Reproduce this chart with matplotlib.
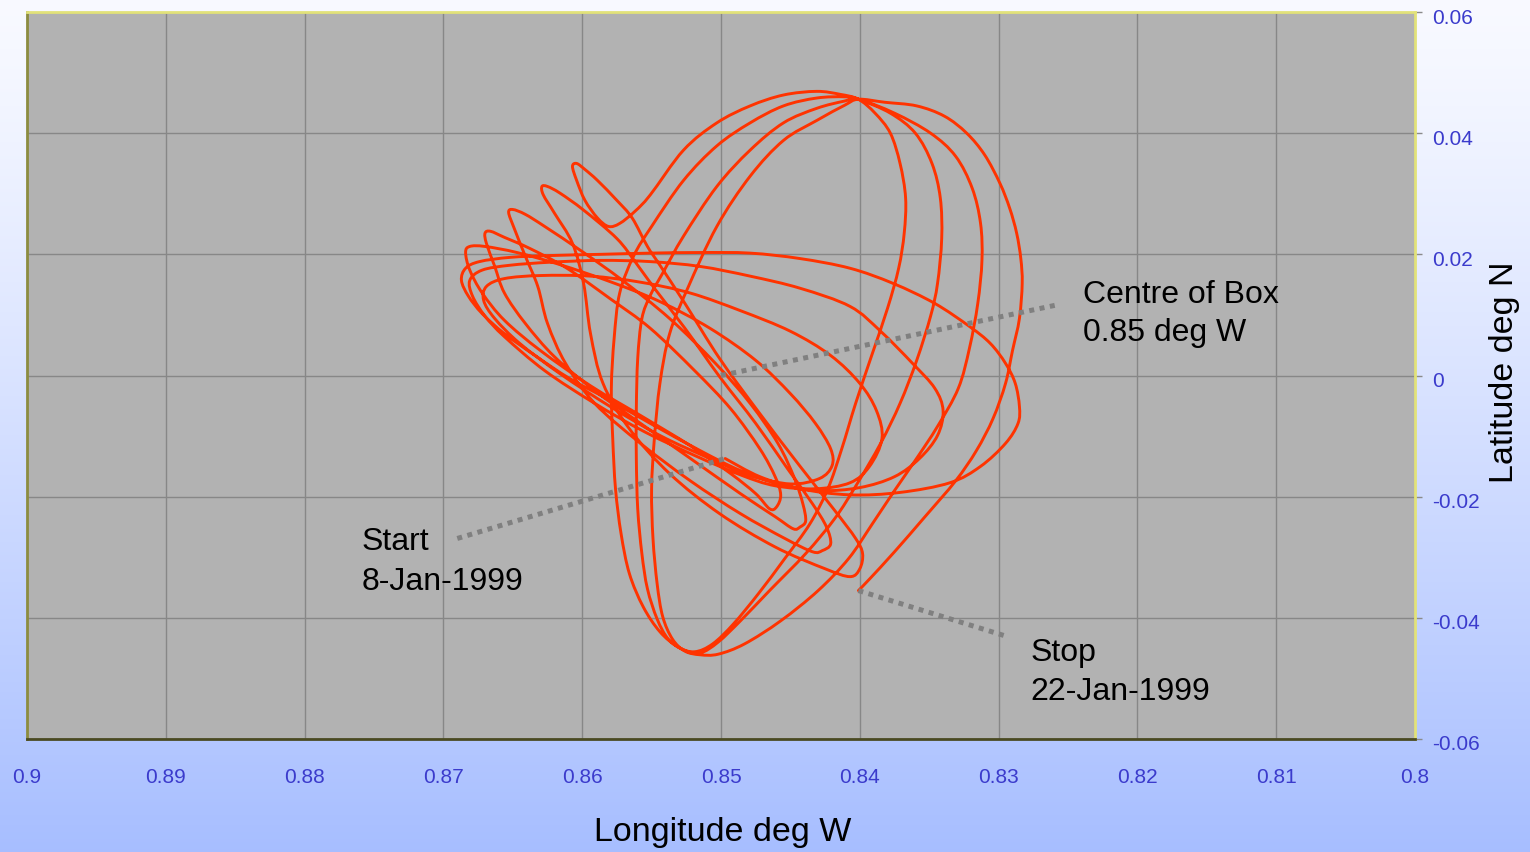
import matplotlib
matplotlib.use("Agg")
import matplotlib.pyplot as plt
from matplotlib.path import Path
from matplotlib.patches import PathPatch
from matplotlib.transforms import ScaledTranslation
import numpy as np

# Daily sub-satellite track, longitude (deg W) and latitude (deg N)
day01_lon = [0.8497, 0.8472, 0.8443, 0.8407, 0.8371, 0.8335, 0.8313, 0.8295, 0.8286, 0.8285, 0.8288, 0.8295,
             0.8306, 0.8321, 0.8346, 0.8376, 0.8407, 0.8443, 0.8479, 0.8515, 0.8551, 0.8587, 0.8623, 0.8652,
             0.8674, 0.8684, 0.8687, 0.8682, 0.8672, 0.8656, 0.8634, 0.8609, 0.8580, 0.8551, 0.8515, 0.8486, 0.8457]
day01_lat = [-0.0137, -0.0167, -0.0187, -0.0197, -0.0193, -0.0177, -0.0150, -0.0112, -0.0079, -0.0051, -0.0013, 0.0020,
             0.0053, 0.0081, 0.0119, 0.0152, 0.0177, 0.0193, 0.0202, 0.0203, 0.0202, 0.0200, 0.0198, 0.0195,
             0.0188, 0.0177, 0.0157, 0.0131, 0.0102, 0.0069, 0.0033, -0.0005, -0.0041, -0.0079, -0.0124, -0.0157, -0.0180]

day02_lon = [0.8429, 0.8400, 0.8375, 0.8357, 0.8344, 0.8340, 0.8346, 0.8362, 0.8385, 0.8407, 0.8443, 0.8479,
             0.8515, 0.8551, 0.8587, 0.8623, 0.8652, 0.8672, 0.8681, 0.8679, 0.8670, 0.8656, 0.8627, 0.8591,
             0.8555, 0.8519, 0.8486, 0.8461]
day02_lat = [-0.0190, -0.0185, -0.0167, -0.0137, -0.0099, -0.0058, -0.0021, 0.0020, 0.0073, 0.0114, 0.0144, 0.0164,
             0.0180, 0.0188, 0.0190, 0.0187, 0.0182, 0.0174, 0.0157, 0.0131, 0.0098, 0.0064, 0.0008, -0.0046,
             -0.0093, -0.0132, -0.0164, -0.0182]

day03_lon = [0.8432, 0.8407, 0.8393, 0.8384, 0.8388, 0.8400, 0.8421, 0.8450, 0.8486, 0.8522, 0.8558, 0.8594,
             0.8630, 0.8656, 0.8669, 0.8671, 0.8663, 0.8645, 0.8616, 0.8580, 0.8544, 0.8508, 0.8479]
day03_lat = [-0.0187, -0.0177, -0.0150, -0.0104, -0.0058, -0.0013, 0.0033, 0.0073, 0.0107, 0.0136, 0.0154, 0.0164,
             0.0165, 0.0160, 0.0147, 0.0124, 0.0094, 0.0053, 0.0003, -0.0051, -0.0099, -0.0137, -0.0165]

day04_lon = [0.8450, 0.8429, 0.8420, 0.8421, 0.8432, 0.8450, 0.8475, 0.8508, 0.8544, 0.8580, 0.8616, 0.8647,
             0.8670, 0.8681, 0.8684, 0.8681, 0.8672, 0.8656, 0.8630, 0.8594, 0.8558, 0.8522, 0.8493, 0.8475, 0.8465]
day04_lat = [-0.0179, -0.0170, -0.0149, -0.0121, -0.0079, -0.0030, 0.0025, 0.0078, 0.0122, 0.0155, 0.0183, 0.0203,
             0.0213, 0.0213, 0.0203, 0.0174, 0.0136, 0.0091, 0.0041, -0.0017, -0.0066, -0.0116, -0.0162, -0.0195, -0.0220]

day05_lon = [0.8460, 0.8457, 0.8461, 0.8472, 0.8493, 0.8519, 0.8551, 0.8580, 0.8611, 0.8638, 0.8656, 0.8666,
             0.8670, 0.8669, 0.8663, 0.8656, 0.8641, 0.8620, 0.8591, 0.8558, 0.8522, 0.8486, 0.8461, 0.8448, 0.8443]
day05_lat = [-0.0217, -0.0197, -0.0167, -0.0121, -0.0055, 0.0008, 0.0078, 0.0127, 0.0177, 0.0210, 0.0228, 0.0238,
             0.0235, 0.0218, 0.0180, 0.0136, 0.0086, 0.0031, -0.0025, -0.0079, -0.0137, -0.0195, -0.0233, -0.0253, -0.0250]

day06_lon = [0.8439, 0.8441, 0.8447, 0.8459, 0.8479, 0.8504, 0.8537, 0.8571, 0.8599, 0.8627, 0.8641, 0.8650,
             0.8653, 0.8649, 0.8641, 0.8632, 0.8625, 0.8612, 0.8591, 0.8558, 0.8522, 0.8486, 0.8454, 0.8434, 0.8427]
day06_lat = [-0.0240, -0.0212, -0.0170, -0.0112, -0.0046, 0.0020, 0.0094, 0.0157, 0.0203, 0.0246, 0.0266, 0.0274,
             0.0269, 0.0243, 0.0197, 0.0147, 0.0086, 0.0020, -0.0046, -0.0112, -0.0174, -0.0228, -0.0269, -0.0291, -0.0289]

day07_lon = [0.8421, 0.8424, 0.8434, 0.8452, 0.8475, 0.8501, 0.8526, 0.8548, 0.8561, 0.8575, 0.8599, 0.8616,
             0.8625, 0.8629, 0.8628, 0.8620, 0.8607, 0.8599, 0.8594, 0.8585, 0.8566, 0.8537, 0.8501, 0.8461,
             0.8425, 0.8407, 0.8400]
day07_lat = [-0.0278, -0.0250, -0.0212, -0.0154, -0.0079, -0.0002, 0.0078, 0.0144, 0.0185, 0.0226, 0.0273, 0.0301,
             0.0312, 0.0312, 0.0298, 0.0268, 0.0218, 0.0152, 0.0069, -0.0013, -0.0088, -0.0162, -0.0228, -0.0283,
             -0.0319, -0.0332, -0.0319]

day08_lon = [0.8398, 0.8403, 0.8418, 0.8443, 0.8472, 0.8501, 0.8526, 0.8544, 0.8553, 0.8564, 0.8575, 0.8589,
             0.8598, 0.8604, 0.8607, 0.8604, 0.8598, 0.8589, 0.8581, 0.8573, 0.8562, 0.8551]
day08_lat = [-0.0294, -0.0269, -0.0223, -0.0150, -0.0063, 0.0028, 0.0119, 0.0182, 0.0213, 0.0260, 0.0289, 0.0322,
             0.0340, 0.0350, 0.0345, 0.0322, 0.0289, 0.0260, 0.0246, 0.0251, 0.0271, 0.0298]

day09_lon = [0.8527, 0.8503, 0.8479, 0.8455, 0.8431, 0.8414, 0.8401, 0.8389, 0.8378, 0.8371, 0.8367, 0.8368,
             0.8372, 0.8380, 0.8391, 0.8403, 0.8413, 0.8423, 0.8436, 0.8454, 0.8473, 0.8491, 0.8506, 0.8519,
             0.8531, 0.8544, 0.8556, 0.8566, 0.8572, 0.8576, 0.8578, 0.8579, 0.8577, 0.8573, 0.8563, 0.8550, 0.8527]
day09_lat = [0.0372, 0.0417, 0.0445, 0.0463, 0.0469, 0.0464, 0.0456, 0.0433, 0.0400, 0.0350, 0.0293, 0.0235,
             0.0177, 0.0111, 0.0036, -0.0046, -0.0121, -0.0187, -0.0245, -0.0302, -0.0360, -0.0410, -0.0443, -0.0456,
             -0.0448, -0.0423, -0.0382, -0.0327, -0.0261, -0.0187, -0.0104, -0.0021, 0.0061, 0.0136, 0.0197, 0.0246, 0.0322]

day10_lon = [0.8503, 0.8479, 0.8455, 0.8431, 0.8411, 0.8401, 0.8378, 0.8360, 0.8348, 0.8342, 0.8341,
             0.8344, 0.8349, 0.8359, 0.8371, 0.8385, 0.8402, 0.8418, 0.8439, 0.8465, 0.8486, 0.8502, 0.8515,
             0.8527, 0.8538, 0.8546, 0.8553, 0.8557, 0.8560, 0.8561, 0.8561, 0.8560, 0.8557, 0.8551, 0.8542, 0.8527]
day10_lat = [0.0379, 0.0417, 0.0445, 0.0458, 0.0460, 0.0456, 0.0433, 0.0400, 0.0350, 0.0293, 0.0226,
             0.0152, 0.0098, 0.0025, -0.0046, -0.0112, -0.0179, -0.0236, -0.0294, -0.0355, -0.0405, -0.0440, -0.0458,
             -0.0453, -0.0435, -0.0402, -0.0352, -0.0294, -0.0220, -0.0137, -0.0055, 0.0028, 0.0094, 0.0132, 0.0169, 0.0230]

day11_lon = [0.8503, 0.8479, 0.8455, 0.8431, 0.8411, 0.8401, 0.8375, 0.8349, 0.8331, 0.8319, 0.8313,
             0.8312, 0.8315, 0.8321, 0.8329, 0.8344, 0.8360, 0.8375, 0.8391, 0.8408, 0.8430, 0.8457, 0.8483,
             0.8502, 0.8515, 0.8526, 0.8535, 0.8542, 0.8546, 0.8549, 0.8550, 0.8548, 0.8544, 0.8537, 0.8524, 0.8503]
day11_lat = [0.0312, 0.0372, 0.0417, 0.0441, 0.0453, 0.0456, 0.0433, 0.0400, 0.0362, 0.0309, 0.0251,
             0.0190, 0.0119, 0.0045, -0.0021, -0.0084, -0.0140, -0.0190, -0.0245, -0.0302, -0.0355, -0.0405, -0.0443,
             -0.0460, -0.0461, -0.0455, -0.0435, -0.0398, -0.0344, -0.0269, -0.0187, -0.0104, -0.0013, 0.0069, 0.0144, 0.0246]

day12_lon = [0.8479, 0.8455, 0.8431, 0.8411, 0.8401, 0.8382, 0.8359, 0.8339, 0.8323, 0.8310, 0.8299, 0.8292,
             0.8287, 0.8284, 0.8283, 0.8285, 0.8290, 0.8295, 0.8304, 0.8316, 0.8331, 0.8353, 0.8375, 0.8393, 0.8401]
day12_lat = [0.0329, 0.0388, 0.0421, 0.0446, 0.0456, 0.0451, 0.0445, 0.0428, 0.0400, 0.0364, 0.0317, 0.0276,
             0.0235, 0.0193, 0.0152, 0.0094, 0.0041, -0.0013, -0.0071, -0.0124, -0.0174, -0.0233, -0.0291, -0.0336, -0.0355]

x_ticks = [0.9, 0.89, 0.88, 0.87, 0.86, 0.85, 0.84, 0.83, 0.82, 0.81, 0.8]
x_tick_labels = ["0.9", "0.89", "0.88", "0.87", "0.86", "0.85", "0.84", "0.83", "0.82", "0.81", "0.8"]
y_ticks = [0.06, 0.04, 0.02, 0.0, -0.02, -0.04, -0.06]
y_tick_labels = ["0.06", "0.04", "0.02", "0", "-0.02", "-0.04", "-0.06"]

box_centre_lon = 0.85
box_centre_lat = 0.0

lon_track = np.concatenate([day01_lon, day02_lon, day03_lon, day04_lon, day05_lon, day06_lon,
                            day07_lon, day08_lon, day09_lon, day10_lon, day11_lon, day12_lon])
lat_track = np.concatenate([day01_lat, day02_lat, day03_lat, day04_lat, day05_lat, day06_lat,
                            day07_lat, day08_lat, day09_lat, day10_lat, day11_lat, day12_lat])


def smoothed_line(xs, ys):
    """Smoothed line through the points (cubic Bezier segments, as a spreadsheet 'smoothed line')."""
    pts = np.column_stack([xs, ys])
    padded = np.vstack([pts[0], pts, pts[-1]])
    verts = [pts[0]]
    codes = [Path.MOVETO]
    for i in range(len(pts) - 1):
        p0, p1, p2, p3 = padded[i], padded[i + 1], padded[i + 2], padded[i + 3]
        verts += [p1 + (p2 - p0) / 6.0, p2 - (p3 - p1) / 6.0, p2]
        codes += [Path.CURVE4] * 3
    return Path(verts, codes)


plt.rcParams['font.family'] = ['Liberation Sans', 'DejaVu Sans']

W, H = 1530, 853
fig = plt.figure(figsize=(W / 100, H / 100), dpi=100)

# page background: white at the top fading to light blue at the bottom
bg = fig.add_axes([0, 0, 1, 1], zorder=0)
t = np.linspace(0, 1, 256)[:, None]
top = np.array([0.975, 0.98, 1.0])
bottom = np.array([0.655, 0.745, 1.0])
grad = top[None, None, :] * (1 - t[..., None] ** 1.2) + bottom[None, None, :] * (t[..., None] ** 1.2)
grad = np.repeat(grad, 2, axis=1)
bg.imshow(grad, aspect='auto', extent=[0, 1, 0, 1], origin='upper')
bg.set_axis_off()

ax_l, ax_r, ax_t, ax_b = 27 / W, 1415 / W, 1 - 13 / H, 1 - 740 / H
ax = fig.add_axes([ax_l, ax_b, ax_r - ax_l, ax_t - ax_b], zorder=1)
ax.set_facecolor('#b2b2b2')
ax.set_xlim(0.9, 0.8)
ax.set_ylim(-0.06, 0.06)

ax.set_xticks(x_ticks)
ax.set_xticklabels(x_tick_labels)
ax.set_yticks(y_ticks)
ax.set_yticklabels(y_tick_labels)
ax.yaxis.tick_right()
ax.tick_params(axis='x', length=0, pad=20, labelsize=15, labelcolor='#3b3bcc')
ax.tick_params(axis='y', length=5, width=1, color='#8a8a8a', pad=7, labelsize=15, labelcolor='#3b3bcc')
shift = ScaledTranslation(0, -3 / 100, fig.dpi_scale_trans)
for lab in ax.get_yticklabels():
    lab.set_transform(lab.get_transform() + shift)
ax.grid(True, color='#878787', linewidth=1.0)
ax.set_axisbelow(True)

for side in ('top', 'right'):
    ax.spines[side].set_color('#e2e27a')
    ax.spines[side].set_linewidth(2)
ax.spines['left'].set_color('#8c8c40')
ax.spines['left'].set_linewidth(2)
ax.spines['bottom'].set_color('#4a4a22')
ax.spines['bottom'].set_linewidth(2)

# track
track = PathPatch(smoothed_line(lon_track, lat_track), facecolor='none', edgecolor='#ff3300',
                  linewidth=2.1, joinstyle='round', capstyle='round', zorder=3)
ax.add_patch(track)

# pointer lines
dot_kw = dict(color='#808080', linewidth=3.6, linestyle=(0, (1, 1.1)), dash_capstyle='butt', zorder=4)
ax.plot([0.8690, lon_track[0]], [-0.0269, lat_track[0]], **dot_kw)
ax.plot([box_centre_lon, 0.8259], [box_centre_lat, 0.0116], **dot_kw)
ax.plot([lon_track[-1], 0.8295], [lat_track[-1], -0.0430], **dot_kw)

txt_kw = dict(fontsize=23, color='black', va='center', ha='left', zorder=5)
ax.text(0.8239, 0.0135, 'Centre of Box', **txt_kw)
ax.text(0.8239, 0.0071, '0.85 deg W', **txt_kw)
ax.text(0.8759, -0.0274, 'Start', **txt_kw)
ax.text(0.8759, -0.0339, '8-Jan-1999', **txt_kw)
ax.text(0.8277, -0.0457, 'Stop', **txt_kw)
ax.text(0.8277, -0.0520, '22-Jan-1999', **txt_kw)

fig.text(723 / W, 1 - 833 / H, 'Longitude deg W', fontsize=24.5, ha='center', va='center', color='black')
fig.text(1505 / W, 1 - 372 / H, 'Latitude deg N', fontsize=24.5, ha='center', va='center',
         rotation=90, color='black')

fig.savefig('out.png', dpi=100)
